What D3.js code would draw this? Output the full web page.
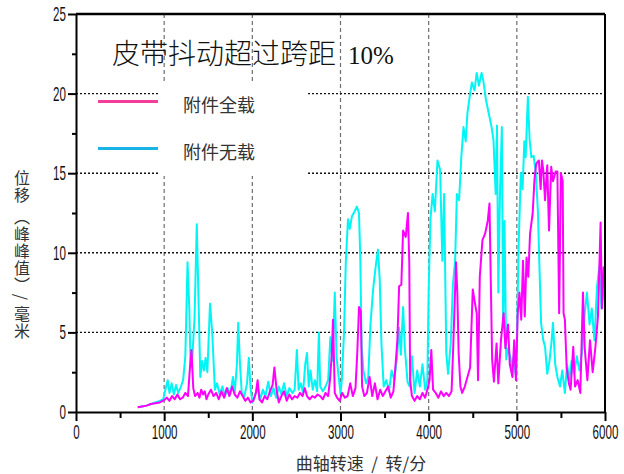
<!DOCTYPE html>
<html>
<head>
<meta charset="utf-8">
<script src="https://cdn.jsdelivr.net/npm/d3@7"></script>
<style>
html,body{margin:0;padding:0;background:#fff;}
svg{display:block;}
</style>
</head>
<body>
<svg id="chart" width="624" height="474"></svg>
<script>
const titleText = "皮带抖动超过跨距";
const titlePct = "10%";
const seriesNames = ["附件全载", "附件无载"];
const xLabel = "曲轴转速  /  转/分";
const yLabel = "位移 （峰峰值）/ 毫米";
const xTicks = [0, 1000, 2000, 3000, 4000, 5000, 6000];
const xMinor = [500, 1500, 2500, 3500, 4500, 5500];
const yTicks = [0, 5, 10, 15, 20, 25];
const yMinor = [2.5, 7.5, 12.5, 17.5, 22.5];

// 附件全载 (full load) – magenta
const fullRpm = [700,750,800,850,900,950,1000,1030,1060,1090,1120,1150,1180,1210,1240,1270,1290,1310,1330,1350,1380,1400,1420,1440,1460,1480,1500,1530,1560,1590,1620,1650,1680,1710,1740,1770,1800,1830,1860,1890,1920,1950,1980,2010,2040,2060,2080,2110,2140,2170,2200,2230,2250,2275,2300,2330,2360,2390,2420,2450,2480,2510,2540,2570,2595,2620,2650,2680,2710,2740,2770,2800,2830,2860,2880,2900,2915,2935,2960,2990,3020,3050,3080,3110,3140,3170,3190,3210,3230,3245,3270,3300,3330,3360,3390,3420,3450,3480,3510,3540,3570,3600,3625,3645,3665,3690,3710,3740,3765,3780,3790,3810,3840,3870,3900,3930,3960,3990,4010,4030,4050,4080,4110,4140,4170,4200,4230,4260,4280,4310,4325,4340,4360,4380,4410,4440,4470,4500,4520,4545,4560,4580,4610,4640,4670,4690,4705,4720,4740,4770,4790,4820,4850,4870,4900,4920,4950,4970,4990,5010,5030,5050,5070,5090,5110,5130,5150,5180,5200,5220,5250,5270,5285,5300,5320,5345,5365,5390,5410,5440,5460,5480,5500,5520,5530,5545,5565,5590,5610,5640,5660,5690,5720,5750,5770,5800,5830,5860,5890,5920,5950,5965,5985,6000];
const fullDisp = [0.3,0.35,0.4,0.5,0.55,0.6,0.75,0.9,0.7,1.0,0.8,1.1,0.8,0.9,1.2,1.0,2.6,3.9,1.5,1.0,1.2,0.9,1.4,1.1,1.3,0.8,1.1,1.4,1.0,1.2,0.8,1.3,0.9,1.5,1.0,1.6,1.1,0.9,1.3,1.0,0.7,0.9,0.6,0.7,1.2,2.0,0.8,0.6,1.0,0.8,1.3,1.7,2.8,1.4,0.6,1.0,1.3,0.7,1.1,0.8,1.0,0.9,1.2,1.0,1.5,1.0,0.8,1.0,0.9,1.1,1.0,0.8,1.2,1.0,2.0,3.5,5.8,1.2,0.9,0.7,1.2,0.9,1.0,1.8,1.0,1.5,3.7,6.6,6.3,1.6,1.0,1.2,2.2,1.0,1.8,0.8,1.4,1.0,1.3,1.6,0.9,1.3,3.0,4.5,7.9,8.0,11.4,11.0,12.5,9.4,2.0,1.0,0.7,1.0,0.8,1.2,0.9,1.5,2.0,3.9,1.4,1.2,0.9,1.3,1.0,1.2,1.0,1.3,4.3,9.4,7.5,3.7,1.6,1.2,1.6,2.2,2.8,7.7,7.0,6.2,2.0,8.5,10.8,11.2,12.0,13.1,8.1,3.3,1.9,4.3,1.8,4.5,6.2,4.0,5.5,3.0,2.2,4.5,2.0,6.2,7.5,5.8,9.5,6.0,9.7,8.5,11.2,12.5,14.6,15.6,15.8,14.0,15.8,15.2,13.3,15.5,11.4,15.4,14.5,15.1,15.1,6.2,15.0,14.5,6.2,5.8,2.8,1.8,1.4,4.1,1.6,2.0,1.2,7.5,4.0,2.0,4.5,2.5,4.0,6.0,11.9,6.5,9.1,8.0];

// 附件无载 (no load) – cyan
const noRpm = [700,750,800,850,900,950,990,1010,1040,1060,1085,1110,1135,1160,1190,1215,1240,1265,1285,1300,1320,1345,1370,1390,1410,1430,1450,1470,1490,1520,1545,1575,1600,1630,1660,1690,1720,1750,1780,1800,1825,1840,1860,1880,1910,1940,1960,1980,2000,2030,2060,2090,2120,2150,2180,2210,2240,2270,2300,2330,2360,2390,2420,2455,2480,2505,2525,2550,2575,2600,2620,2640,2660,2685,2710,2735,2755,2770,2800,2830,2860,2885,2910,2935,2955,2975,3000,3015,3040,3060,3085,3105,3130,3160,3185,3210,3225,3240,3260,3290,3315,3340,3370,3400,3425,3445,3465,3490,3520,3550,3580,3610,3640,3665,3685,3710,3730,3760,3785,3810,3840,3870,3900,3930,3960,3985,4000,4020,4045,4070,4100,4130,4155,4175,4200,4220,4250,4275,4300,4320,4345,4370,4395,4420,4440,4465,4490,4520,4545,4570,4600,4620,4650,4680,4710,4735,4760,4775,4790,4810,4830,4845,4860,4880,4900,4925,4945,4965,4985,5000,5020,5045,5065,5085,5100,5125,5145,5165,5190,5215,5240,5255,5275,5300,5320,5345,5370,5395,5410,5435,5460,5490,5515,5545,5570,5595,5620,5650,5680,5710,5740,5770,5795,5825,5850,5880,5910,5935,5960,5985,6000];
const noDisp = [0.3,0.35,0.4,0.5,0.6,0.7,0.8,1.3,2.0,1.2,1.8,1.1,1.7,1.2,1.6,2.0,3.5,9.4,6.5,2.8,3.5,6.0,11.8,7.0,2.2,3.2,2.6,3.4,2.5,6.8,5.0,1.4,1.8,1.1,1.6,1.0,1.5,1.1,2.2,1.2,3.0,5.6,3.0,1.2,1.0,1.8,3.4,1.5,0.6,1.0,1.6,0.8,1.4,1.0,1.9,1.0,1.5,0.9,1.6,1.1,1.8,1.0,1.5,1.2,1.4,3.9,1.4,1.8,1.2,3.0,3.7,1.6,2.6,1.4,2.0,1.3,5.0,1.6,1.3,1.6,2.0,4.7,3.2,7.5,3.5,2.4,1.2,2.0,5.0,9.4,12.1,11.5,12.3,12.6,12.9,12.5,9.5,4.1,2.6,1.8,2.2,5.5,7.7,9.2,10.2,8.3,4.2,1.6,2.0,1.3,2.6,2.0,3.4,5.3,3.6,6.6,4.0,1.9,1.6,3.5,1.2,2.6,1.6,3.0,1.4,2.0,7.7,12.1,13.7,12.6,15.8,15.2,9.5,13.7,3.7,2.4,4.3,8.0,9.5,13.7,13.3,16.0,17.9,17.0,18.8,19.8,20.7,20.2,21.3,20.5,21.3,20.8,19.6,18.8,18.0,17.1,13.7,18.0,7.5,14.0,17.9,5.3,12.0,3.3,4.0,3.5,2.8,3.5,2.4,4.1,10.4,15.0,14.0,17.0,16.0,19.8,17.1,16.0,16.1,15.0,12.5,9.4,5.6,4.5,4.1,2.4,3.2,4.5,5.6,3.0,2.2,1.6,2.6,1.2,3.0,2.0,3.2,2.4,3.5,2.6,3.8,6.2,7.5,5.5,6.5,4.5,7.9,9.1,6.5,8.0,7.0];

const svg = d3.select("#chart");
const x = d3.scaleLinear().domain([0, 6000]).range([76, 605]);
const y = d3.scaleLinear().domain([0, 25]).range([412, 14]);

// grid
const grid = svg.append("g");
grid.selectAll("line.vg").data(xTicks.slice(1, -1)).enter().append("line")
  .attr("x1", d => x(d)).attr("x2", d => x(d)).attr("y1", y(25)).attr("y2", y(0))
  .attr("stroke", "#6e6e6e").attr("stroke-width", 1.2).attr("stroke-dasharray", "4,3");
grid.selectAll("line.hg").data(yTicks.slice(1, -1)).enter().append("line")
  .attr("x1", x(0)).attr("x2", x(6000)).attr("y1", d => y(d)).attr("y2", d => y(d))
  .attr("stroke", "#111").attr("stroke-width", 1.4).attr("stroke-dasharray", "2,2");

// series
const line = d3.line().x(d => x(d[0])).y(d => y(d[1]));
const noData = noRpm.map((r, i) => [r, noDisp[i]]);
const fullData = fullRpm.map((r, i) => [r, fullDisp[i]]);
svg.append("path").datum(noData).attr("d", line)
  .attr("fill", "none").attr("stroke", "#00f5f5").attr("stroke-width", 2).attr("stroke-linejoin", "round");
svg.append("path").datum(fullData).attr("d", line)
  .attr("fill", "none").attr("stroke", "#ff00ff").attr("stroke-width", 2).attr("stroke-linejoin", "round");

// legend backdrop
svg.append("rect").attr("x", 160).attr("y", 82).attr("width", 148).attr("height", 94).attr("fill", "#fff");

// frame
svg.append("line").attr("x1", x(0)).attr("x2", x(6000)).attr("y1", y(25)).attr("y2", y(25))
  .attr("stroke", "#000").attr("stroke-width", 2.5);
svg.append("line").attr("x1", x(6000)).attr("x2", x(6000)).attr("y1", y(25)).attr("y2", y(0))
  .attr("stroke", "#000").attr("stroke-width", 2);

// axes
const tickFont = "'Liberation Sans', Arial, sans-serif";
const sx = 0.58;
const xAxis = svg.append("g").attr("transform", `translate(0,${y(0)})`)
  .call(d3.axisBottom(x).tickValues(xTicks).tickSizeInner(9).tickSizeOuter(0).tickPadding(4).tickFormat(d3.format("d")));
svg.append("g").attr("transform", `translate(0,${y(0)})`)
  .call(d3.axisBottom(x).tickValues(xMinor).tickSize(6).tickFormat(""))
  .select(".domain").remove();
const yAxis = svg.append("g").attr("transform", `translate(${x(0)},0)`)
  .call(d3.axisLeft(y).tickValues(yTicks).tickSizeInner(8).tickSizeOuter(0).tickPadding(2).tickFormat(d3.format("d")));
svg.append("g").attr("transform", `translate(${x(0)},0)`)
  .call(d3.axisLeft(y).tickValues(yMinor).tickSize(4).tickFormat(""))
  .select(".domain").remove();
svg.selectAll(".domain").attr("stroke", "#000").attr("stroke-width", 2);
svg.selectAll(".tick line").attr("stroke", "#000").attr("stroke-width", 2);
svg.selectAll(".tick text")
  .attr("font-family", tickFont).attr("font-size", 20).attr("fill", "#111");
xAxis.selectAll(".tick text").attr("dy", "0.72em").attr("transform", `scale(${sx},1)`);
yAxis.selectAll(".tick text").attr("x", -10 / sx).attr("transform", `scale(${sx},1)`);

// title
const title = svg.append("text").attr("x", 112).attr("y", 64)
  .attr("font-size", 28).attr("fill", "#111");
title.append("tspan").attr("font-family", "'Noto Sans CJK SC', sans-serif").attr("font-weight", 300).text(titleText);
title.append("tspan").attr("font-family", "'Liberation Serif', serif").attr("font-size", 25).attr("dx", 12).text(titlePct);

// legend
const legColors = ["#f43c9c", "#18b4e8"];
const legY = [101.5, 148.5];
seriesNames.forEach((n, i) => {
  svg.append("line").attr("x1", 98).attr("x2", 158).attr("y1", legY[i]).attr("y2", legY[i])
    .attr("stroke", legColors[i]).attr("stroke-width", 3);
  svg.append("text").attr("x", 183).attr("y", legY[i] + 10)
    .attr("font-family", "'Noto Sans CJK SC', sans-serif").attr("font-size", 18).attr("fill", "#333").text(n);
});

// axis titles
svg.append("text").attr("x", 361).attr("y", 470).attr("text-anchor", "middle")
  .attr("font-family", "'Noto Sans CJK SC', sans-serif").attr("font-size", 17).attr("fill", "#333")
  .style("white-space", "pre").text(xLabel);
svg.append("text").attr("x", 22).attr("y", 255).attr("text-anchor", "middle")
  .style("writing-mode", "vertical-rl").style("letter-spacing", "1px")
  .attr("font-family", "'Noto Sans CJK SC', sans-serif").attr("font-size", 16).attr("fill", "#333").text(yLabel);
</script>
</body>
</html>
